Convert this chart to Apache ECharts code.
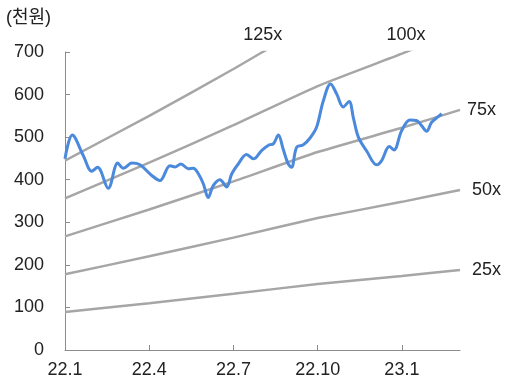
<!DOCTYPE html>
<html>
<head>
<meta charset="utf-8">
<script src="https://cdn.jsdelivr.net/npm/echarts@6/dist/echarts.min.js"></script>
<style>
  html, body { margin: 0; padding: 0; background: #fff; }
  #chart { width: 506px; height: 383px; }
</style>
</head>
<body>
<div id="chart"></div>
<script>
// Month offsets from Jan 2022 and the x-axis tick labels
var tickMonths = [0, 3, 6, 9, 12];
var tickLabels = ['22.1', '22.4', '22.7', '22.10', '23.1'];
var axisEndMonth = 14.07;

// Share price (천원)
var priceMonths = [0, 0.26, 0.65, 0.95, 1.16, 1.54, 1.88, 2.08, 2.38, 2.67,
  3.09, 3.38, 3.74, 3.92, 4.13, 4.39, 4.57, 4.75, 4.93, 5.10,
  5.28, 5.52, 5.76, 5.94, 6.17, 6.47, 6.71, 7.01, 7.28, 7.42,
  7.60, 7.77, 7.95, 8.07, 8.25, 8.49, 8.73, 8.96, 9.20, 9.46,
  9.68, 9.91, 10.12, 10.27, 10.45, 10.74, 11.10, 11.28, 11.55, 11.72,
  11.99, 12.29, 12.52, 12.70, 12.88, 13.06, 13.29, 13.42];
var priceValues = [449, 505, 457, 420, 429, 380, 439, 427, 439, 435,
  410, 398, 433, 430, 437, 426, 427, 414, 390, 358,
  386, 400, 383, 414, 437, 459, 449, 469, 482, 484,
  505, 472, 437, 429, 476, 482, 498, 523, 585, 625,
  601, 571, 584, 546, 500, 468, 435, 445, 478, 470,
  515, 540, 539, 527, 514, 535, 548, 555];

// PER band lines
var bandMonths = [0, 3, 6, 9, 12, 14.07];
var band25 = [89, 110, 132, 155, 174, 188];
var band50 = [178, 220, 264, 310, 348, 376];
var band75 = [267, 330, 396, 465, 522, 564];
var band100 = [356, 440, 528, 620, 696, 752];
var band125 = [445, 550, 660, 775, 870, 940];

var FONT = "'Liberation Sans', Arial, 'Noto Sans CJK KR', sans-serif";
var TEXT = '#222';
var GRAY = '#a6a6a6';
var AXIS = '#8c8c8c';
var BLUE = '#4a89dc';

function pairs(xs, ys) {
  return xs.map(function (x, i) { return [x, ys[i]]; });
}

function bandSeries(name, values, labelDistance) {
  return {
    name: name,
    type: 'line',
    data: pairs(bandMonths, values),
    symbol: 'none',
    smooth: 0.15,
    clip: true,
    silent: true,
    lineStyle: { color: GRAY, width: 2.5 },
    endLabel: labelDistance == null ? { show: false } : {
      show: true,
      formatter: name,
      distance: labelDistance,
      color: TEXT,
      fontSize: 18,
      fontFamily: FONT
    },
    z: 2
  };
}

var chart = echarts.init(document.getElementById('chart'), null, { renderer: 'canvas' });

chart.setOption({
  animation: false,
  backgroundColor: '#fff',
  grid: { left: 65, right: 46, top: 52, bottom: 33 },
  xAxis: {
    type: 'value',
    min: 0,
    max: axisEndMonth,
    axisLine: { show: true, lineStyle: { color: AXIS, width: 1 } },
    axisTick: {
      show: true, inside: true, length: 5,
      customValues: tickMonths,
      lineStyle: { color: AXIS, width: 1 }
    },
    axisLabel: {
      customValues: tickMonths,
      formatter: function (v) {
        var i = tickMonths.indexOf(Math.round(v));
        return i >= 0 ? tickLabels[i] : '';
      },
      color: TEXT, fontSize: 18, fontFamily: FONT, margin: 11
    },
    splitLine: { show: false }
  },
  yAxis: {
    type: 'value',
    min: 0,
    max: 700,
    interval: 100,
    axisLine: { show: true, lineStyle: { color: AXIS, width: 1 } },
    axisTick: { show: true, inside: true, length: 5, lineStyle: { color: AXIS, width: 1 } },
    axisLabel: { color: TEXT, fontSize: 18, fontFamily: FONT, margin: 21 },
    splitLine: { show: false }
  },
  series: [
    bandSeries('25x', band25, 12),
    bandSeries('50x', band50, 12),
    bandSeries('75x', band75, 7),
    bandSeries('100x', band100, null),
    bandSeries('125x', band125, null),
    {
      name: '주가',
      type: 'line',
      data: pairs(priceMonths, priceValues),
      symbol: 'none',
      smooth: 0.35,
      lineStyle: { color: BLUE, width: 3 },
      z: 3
    }
  ]
});

// Labels for the bands that leave through the top of the plot:
// placed above the point where each line reaches the axis maximum.
function crossingMonth(values, level) {
  for (var i = 1; i < values.length; i++) {
    if (values[i] >= level) {
      var t = (level - values[i - 1]) / (values[i] - values[i - 1]);
      return bandMonths[i - 1] + t * (bandMonths[i] - bandMonths[i - 1]);
    }
  }
  return bandMonths[bandMonths.length - 1];
}

var topLabels = [['125x', band125], ['100x', band100]].map(function (b) {
  var p = chart.convertToPixel({ gridIndex: 0 }, [crossingMonth(b[1], 700), 700]);
  return {
    type: 'text',
    x: p[0],
    y: p[1] - 17,
    style: {
      text: b[0], fill: TEXT, fontSize: 18, fontFamily: FONT,
      align: 'center', verticalAlign: 'middle'
    }
  };
});

chart.setOption({
  graphic: [{
    type: 'text',
    left: 6,
    top: 9,
    style: { text: '(천원)', fill: TEXT, fontSize: 18, fontFamily: FONT }
  }].concat(topLabels)
});
</script>
</body>
</html>
